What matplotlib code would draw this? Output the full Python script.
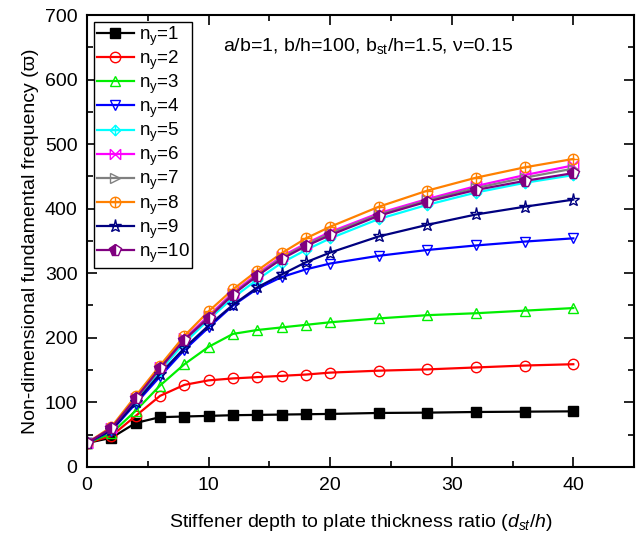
import numpy as np
import matplotlib
matplotlib.use('Agg')
import matplotlib.pyplot as plt
import matplotlib.path as mpath

plt.rcParams['font.family'] = ['Liberation Sans', 'DejaVu Sans']
plt.rcParams['mathtext.fontset'] = 'custom'
plt.rcParams['mathtext.rm'] = 'Liberation Sans'
plt.rcParams['mathtext.it'] = 'Liberation Sans:italic'
plt.rcParams['font.size'] = 14

# data
d_st = [0, 2, 4, 6, 8, 10, 12, 14, 16, 18, 20, 24, 28, 32, 36, 40]

ny1 = [37, 45, 68, 77, 78, 79, 80, 80.5, 81, 81.5, 82, 83.5, 84, 85, 85.5, 86]
ny2 = [37, 48, 79, 110, 127, 134, 137, 139, 141, 143, 146, 149, 151, 154, 157, 159]
ny3 = [37, 52, 87, 126, 159, 186, 206, 212, 216, 220, 224, 230, 235, 238, 242, 246]
ny4 = [37, 56, 98, 140, 181, 216, 250, 276, 294, 306, 315, 327, 336, 343, 349, 354]
ny5 = [37, 58, 102, 149, 192, 228, 262, 290, 316, 336, 354, 384, 406, 425, 440, 452]
ny6 = [37, 60, 106, 154, 199, 234, 270, 299, 326, 346, 364, 393, 415, 435, 452, 467]
ny7 = [37, 59, 105, 152, 197, 232, 268, 297, 324, 344, 362, 391, 413, 432, 448, 462]
ny8 = [37, 62, 110, 157, 203, 241, 275, 304, 331, 354, 372, 403, 428, 448, 464, 477]
ny9 = [37, 57, 100, 144, 184, 219, 251, 278, 298, 317, 332, 357, 375, 391, 403, 414]
ny10 = [37, 60, 106, 153, 197, 231, 267, 296, 322, 342, 359, 389, 411, 429, 443, 455]

labels = [r'n$_{\mathrm{y}}$=%d' % i for i in range(1, 11)]
series = [ny1, ny2, ny3, ny4, ny5, ny6, ny7, ny8, ny9, ny10]
colors = ['black', 'red', '#00ee00', 'blue', 'cyan', 'magenta', 'gray',
          '#ff8000', '#000080', '#800080']

# custom markers
P = mpath.Path
cross = P([(0, 1), (0, -1), (-1, 0), (1, 0)], [P.MOVETO, P.LINETO, P.MOVETO, P.LINETO])
diamond = P([(0, 1), (1, 0), (0, -1), (-1, 0), (0, 1)],
            [P.MOVETO, P.LINETO, P.LINETO, P.LINETO, P.CLOSEPOLY])
diamond_cross = P.make_compound_path(diamond, cross)
circle_cross = P.make_compound_path(P.unit_circle(), cross)
bowtie = P([(-1, -1), (1, 1), (-1, 1), (1, -1), (-1, -1), (-1, 1), (1, -1), (1, 1)],
           [P.MOVETO, P.LINETO, P.MOVETO, P.LINETO, P.MOVETO, P.LINETO, P.MOVETO, P.LINETO])

markers = ['s', 'o', '^', 'v', diamond_cross, bowtie, '>', circle_cross, '*', 'p']

fig = plt.figure(figsize=(6.36, 5.36), dpi=100)
ax = fig.add_axes([0.137, 0.129, 0.86, 0.843])

for i, (y, c, m, lab) in enumerate(zip(series, colors, markers, labels)):
    kw = dict(color=c, lw=1.6, marker=m, markersize=7.5, markeredgecolor=c,
              markeredgewidth=1.0, label=lab)
    if i == 0:
        kw['markerfacecolor'] = c
    elif i == 9:
        kw.update(markerfacecolor=c, fillstyle='left', markerfacecoloralt='white',
                  markersize=8.5)
    elif i == 8:
        kw.update(markerfacecolor='none', markersize=9.5)
    else:
        kw['markerfacecolor'] = 'none'
    ax.plot(d_st, y, **kw)

ax.set_xlim(0, 45)
ax.set_ylim(0, 700)
ax.set_xticks([0, 10, 20, 30, 40])
ax.set_xticks([5, 15, 25, 35], minor=True)
ax.set_yticks(range(0, 701, 100))
ax.set_yticks(range(50, 700, 100), minor=True)
ax.tick_params(which='both', direction='in', top=True, right=True, width=1.2)
ax.tick_params(which='major', length=7, pad=7)
ax.tick_params(which='minor', length=4)
for s in ax.spines.values():
    s.set_linewidth(1.5)

ax.set_xlabel(r'Stiffener depth to plate thickness ratio ($d_{st}/h$)', fontsize=14, labelpad=13)
ax.set_ylabel('Non-dimensional fundamental frequency (ϖ)', fontsize=14, labelpad=4)

ax.text(11.2, 652, r'a/b=1, b/h=100, b$_{\mathrm{st}}$/h=1.5, ν=0.15', fontsize=14, va='center')

leg = ax.legend(loc='upper left', fancybox=False, edgecolor='black', framealpha=1,
                handlelength=2.0, labelspacing=0.05, borderpad=0.15, handletextpad=0.25,
                borderaxespad=0.35, fontsize=13.5)
leg.get_frame().set_linewidth(1.0)

fig.savefig('out.png', dpi=100)
